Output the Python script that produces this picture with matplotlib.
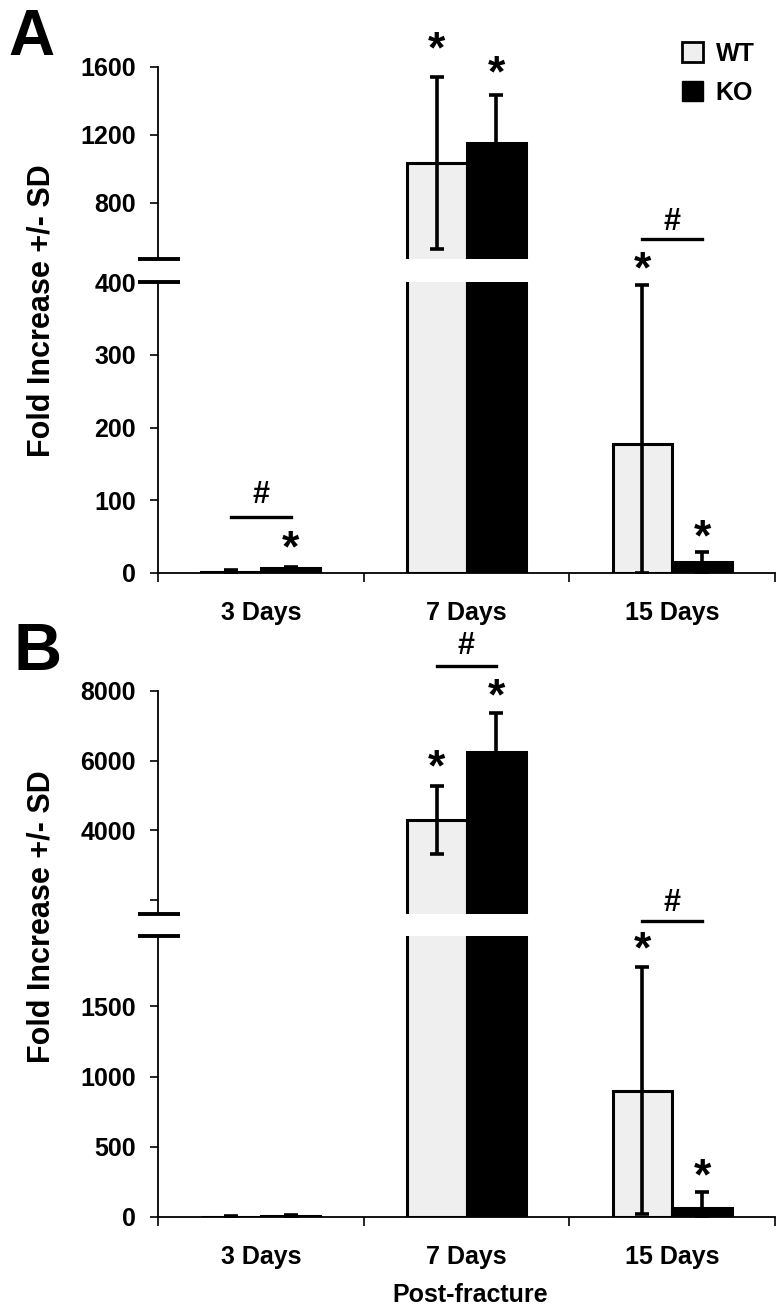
import numpy as np
import matplotlib.pyplot as plt
from matplotlib.patches import Patch

plt.rcParams['font.family'] = ['Liberation Sans', 'DejaVu Sans']
plt.rcParams['font.weight'] = 'bold'

days = ['3 Days', '7 Days', '15 Days']
groups = ['WT', 'KO']

# panel A (fold increase, mean and SD)
a_wt = [2, 1035, 178]
a_wt_sd = [2, 505, 218]
a_ko = [7, 1153, 15]
a_ko_sd = [1, 282, 14]

# panel B
b_wt = [3, 4300, 900]
b_wt_sd = [4, 980, 880]
b_ko = [5, 6240, 65]
b_ko_sd = [6, 1120, 112]

# significance marks: (day index, group index, text offset in pt)
a_stars = [(0, 1, 4), (1, 0, 11), (1, 1, 6), (2, 0, 2), (2, 1, 1)]
b_stars = [(1, 0, 4), (1, 1, 3), (2, 0, 3), (2, 1, 2)]
# '#' comparisons: (day index, segment, y level, text offset in pt)
a_hash = [(0, 'low', 77, 10), (2, 'top', 588, 6.5)]
b_hash = [(1, 'top', 8714, 8.5), (2, 'low', 2106, 7)]

W, H = 784, 1311
fig = plt.figure(figsize=(W / 100, H / 100), dpi=100)

WT_COL = '#efefef'
off, bw = 0.145, 0.29


def px_axes(top, bottom, left=158, right=775):
    return fig.add_axes([left / W, 1 - bottom / H, (right - left) / W, (bottom - top) / H])


def draw_bars(ax, wt, wt_sd, ko, ko_sd, err_min):
    x = np.arange(3) + 0.5
    ax.bar(x - off, wt, bw, color=WT_COL, edgecolor='black', linewidth=2.2, zorder=2)
    ax.bar(x + off, ko, bw, color='black', edgecolor='black', linewidth=2.2, zorder=2)
    for xs, v, sd in [(x - off, wt, wt_sd), (x + off, ko, ko_sd)]:
        v = np.array(v, float)
        sd = np.array(sd, float)
        keep = v + sd > err_min
        ax.errorbar(xs[keep], v[keep], yerr=[np.minimum(sd, v)[keep], sd[keep]], fmt='none',
                    ecolor='black', elinewidth=2.6, capsize=5, capthick=2.6, zorder=3)


def style(ax, lower):
    for s in ['top', 'right']:
        ax.spines[s].set_visible(False)
    ax.spines['left'].set_linewidth(1.3)
    ax.set_xlim(0, 3)
    if lower:
        ax.spines['bottom'].set_linewidth(1.3)
        ax.set_xticks([0, 1, 2, 3])
        ax.set_xticklabels([])
        ax.set_xticks([0.5, 1.5, 2.5], minor=True)
        ax.set_xticklabels(days, minor=True)
        ax.tick_params(axis='x', which='major', direction='out', length=6.5, width=1.2)
        ax.tick_params(axis='x', which='minor', length=0, pad=20, labelsize=18)
        ax.plot([-20 / 617, 22 / 617], [1, 1], transform=ax.transAxes, color='black',
                lw=2.8, clip_on=False, solid_capstyle='butt')
    else:
        ax.spines['bottom'].set_visible(False)
        ax.set_xticks([])
        ax.plot([-20 / 617, 22 / 617], [0, 0], transform=ax.transAxes, color='black',
                lw=2.8, clip_on=False, solid_capstyle='butt')
    ax.tick_params(axis='y', direction='out', length=6, width=1.2, pad=10, labelsize=18)


def panel(top_px, low_px, top_lim, low_lim, top_ticks, low_ticks, top_labels,
          wt, wt_sd, ko, ko_sd, stars, hashes):
    ax_t = px_axes(*top_px)
    ax_l = px_axes(*low_px)
    draw_bars(ax_t, wt, wt_sd, ko, ko_sd, low_lim[1])
    draw_bars(ax_l, wt, wt_sd, ko, ko_sd, -1)
    ax_t.set_ylim(*top_lim)
    ax_l.set_ylim(*low_lim)
    ax_t.set_yticks(top_ticks)
    ax_t.set_yticklabels(top_labels)
    ax_l.set_yticks(low_ticks)
    style(ax_t, False)
    style(ax_l, True)

    means = [wt, ko]
    sds = [wt_sd, ko_sd]
    for d, g, dy in stars:
        x = d + 0.5 + (off if g else -off)
        y = means[g][d] + sds[g][d]
        ax = ax_t if y > low_lim[1] else ax_l
        ax.annotate('*', xy=(x, y), xytext=(0, dy), textcoords='offset points',
                    ha='center', va='baseline', fontsize=32, annotation_clip=False)
    for d, seg, y, dy in hashes:
        ax = ax_t if seg == 'top' else ax_l
        ax.plot([d + 0.5 - off, d + 0.5 + off], [y, y], color='black', lw=2.4, clip_on=False)
        ax.annotate('#', xy=(d + 0.5, y), xytext=(0, dy), textcoords='offset points',
                    ha='center', va='baseline', fontsize=22, annotation_clip=False)
    return ax_t, ax_l


# panel A
axA_t, axA_l = panel((67, 259), (282, 573), (470, 1600), (0, 400),
                     [800, 1200, 1600], [0, 100, 200, 300, 400], ['800', '1200', '1600'],
                     a_wt, a_wt_sd, a_ko, a_ko_sd, a_stars, a_hash)
# panel B
axB_t, axB_l = panel((691, 914), (936, 1217), (1600, 8000), (0, 2000),
                     [2000, 4000, 6000, 8000], [0, 500, 1000, 1500], ['', '4000', '6000', '8000'],
                     b_wt, b_wt_sd, b_ko, b_ko_sd, b_stars, b_hash)

fig.text(8 / W, 1 - 8 / H, 'A', fontsize=46, ha='left', va='top')
fig.text(14 / W, 1 - 622 / H, 'B', fontsize=48, ha='left', va='top')
fig.text(42 / W, 1 - 311 / H, 'Fold Increase +/- SD', rotation=90, ha='center', va='center', fontsize=22)
fig.text(42 / W, 1 - 917 / H, 'Fold Increase +/- SD', rotation=90, ha='center', va='center', fontsize=22)
fig.text(470 / W, 1 - 1295 / H, 'Post-fracture', ha='center', va='center', fontsize=18)

handles = [Patch(facecolor=WT_COL, edgecolor='black', linewidth=2),
           Patch(facecolor='black', edgecolor='black')]
fig.legend(handles, groups, loc='upper left', bbox_to_anchor=(682 / W, 1 - 42 / H),
           frameon=False, fontsize=18, handlelength=0.85, handleheight=0.85,
           handletextpad=0.5, labelspacing=0.6, borderaxespad=0, borderpad=0)

fig.savefig('out.png', dpi=100)
